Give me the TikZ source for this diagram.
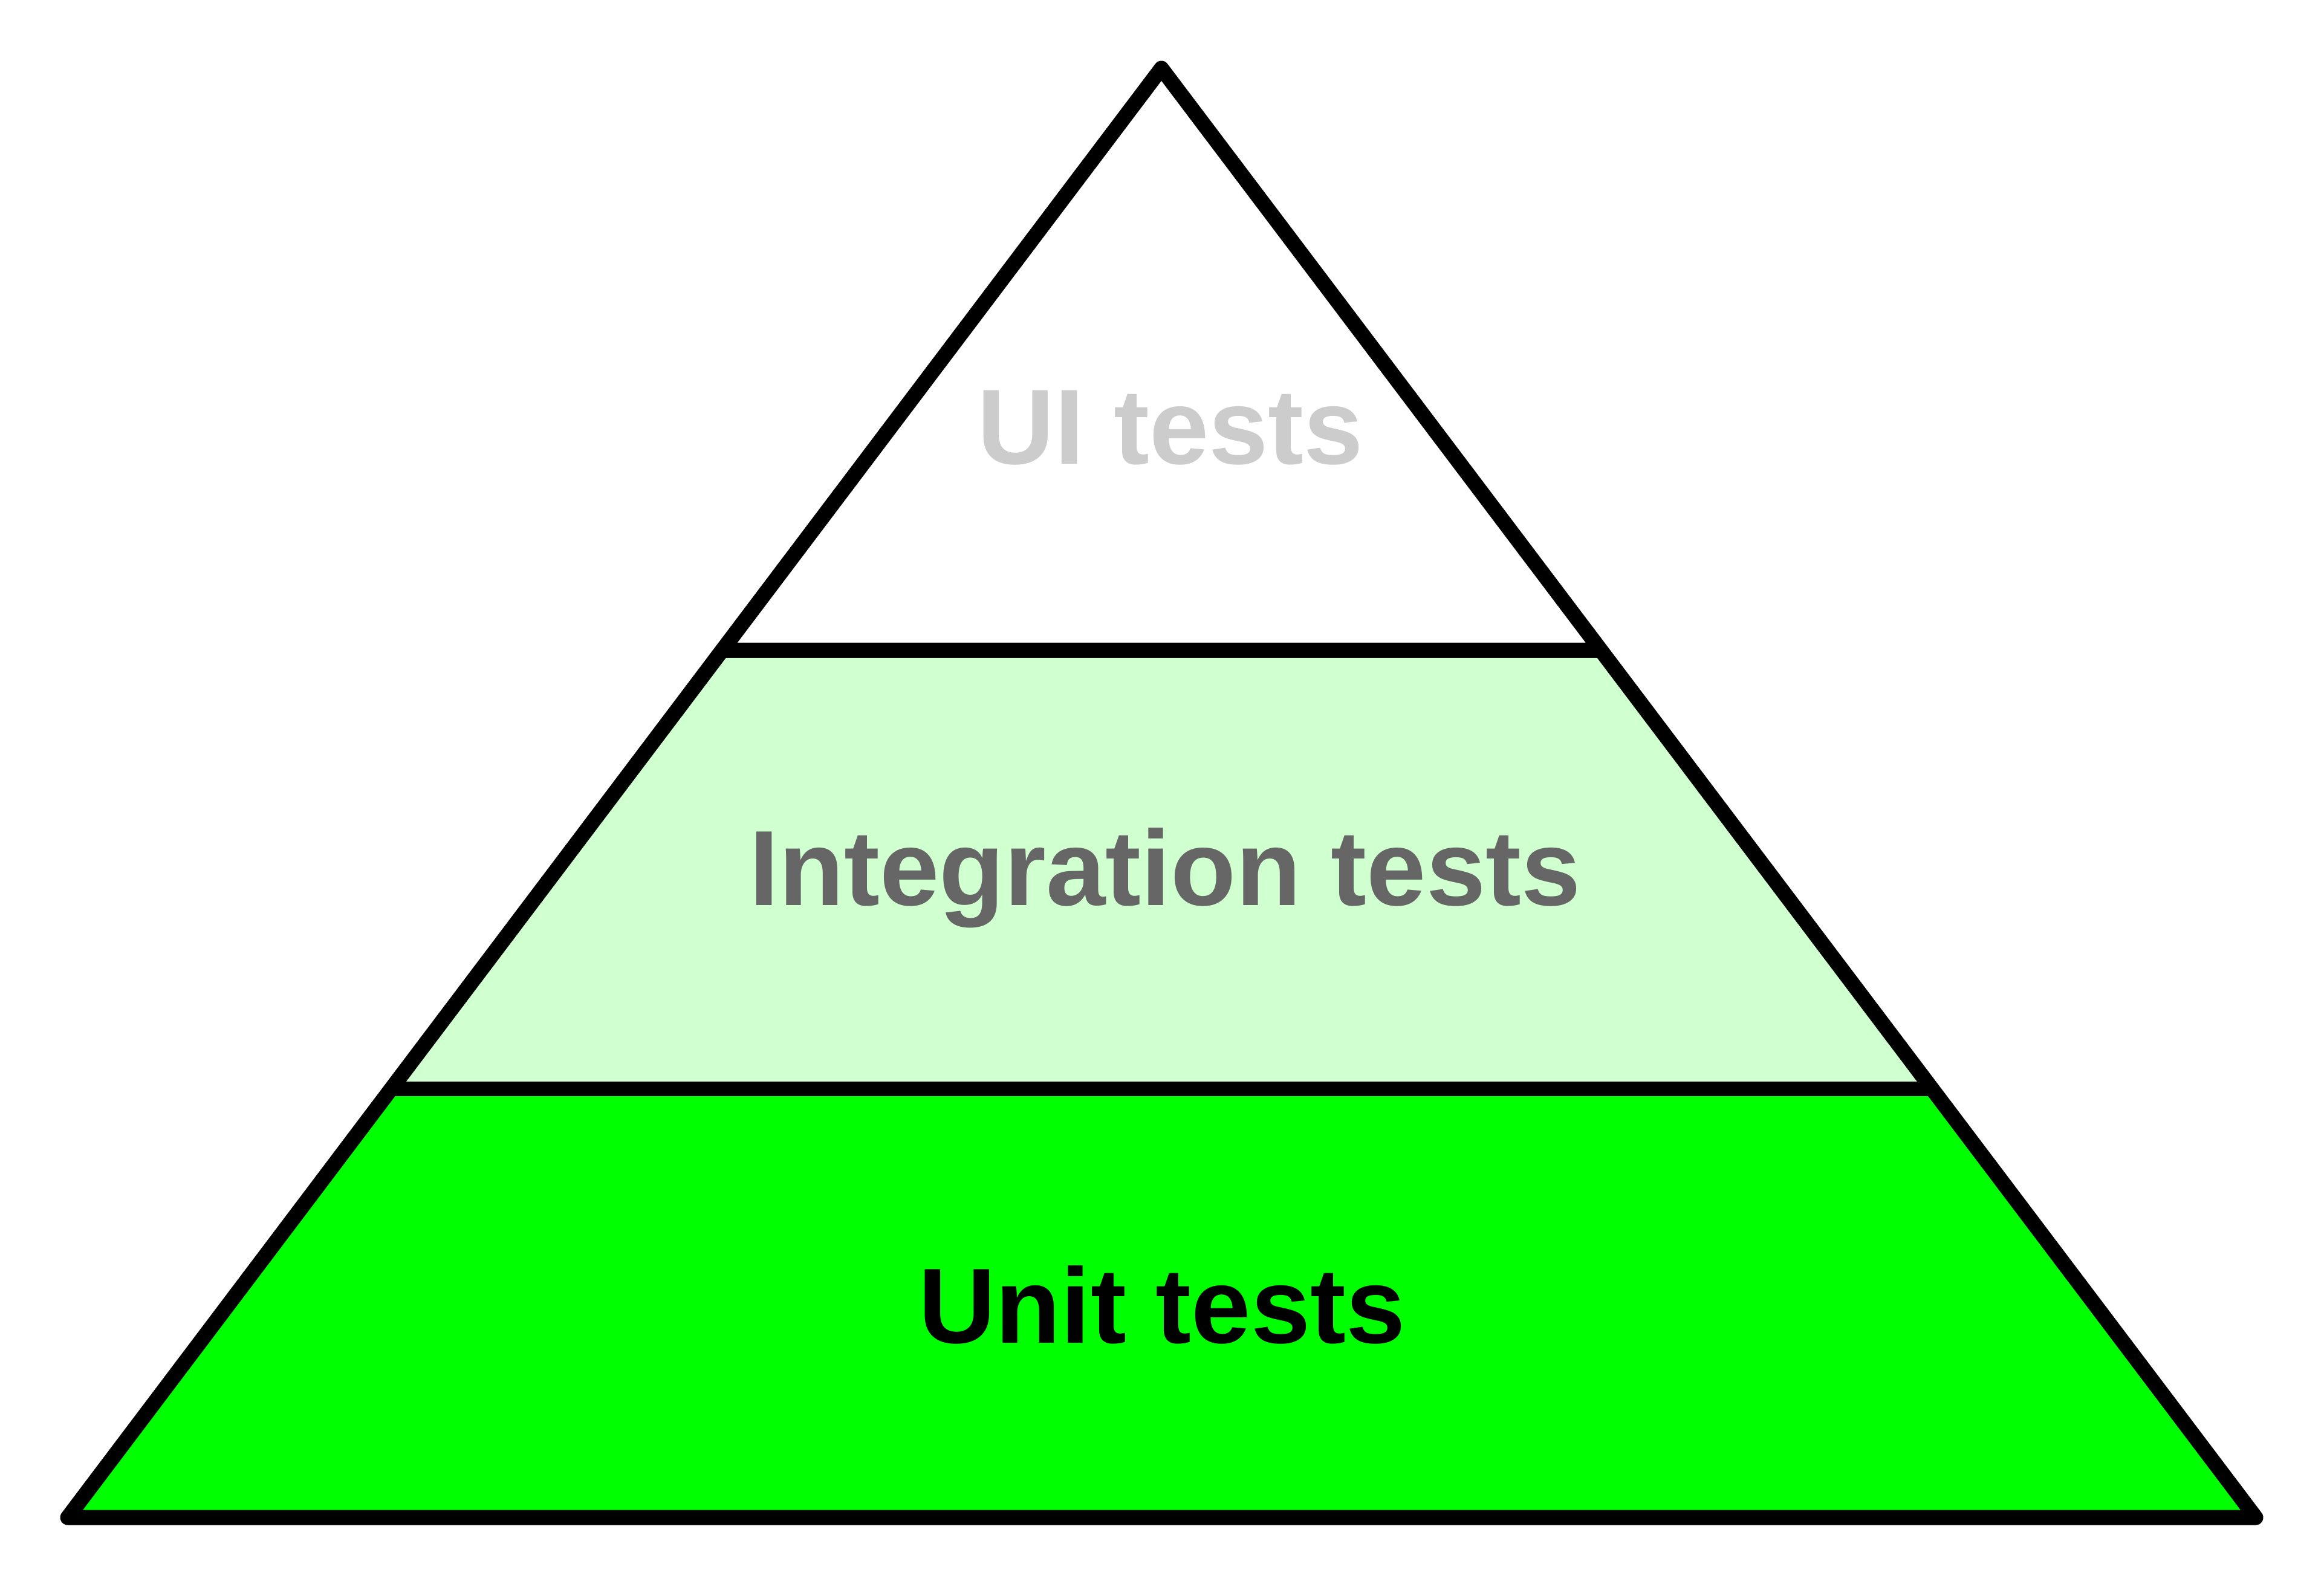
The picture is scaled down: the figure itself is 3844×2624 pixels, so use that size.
\documentclass[tikz,border=0pt]{standalone}
\usepackage{fontspec}
\setmainfont{Liberation Sans}
\usetikzlibrary{calc}
\definecolor{unitgreen}{HTML}{00FF00}
\definecolor{intgreen}{HTML}{D0FFD0}
\definecolor{uigray}{HTML}{CCCCCC}
\definecolor{intgray}{HTML}{666666}

\begin{document}
\begin{tikzpicture}[x=0.1mm, y=-0.1mm, line join=round,
        tier/.style={font=\fontsize{50.3}{60}\selectfont\bfseries, anchor=base},
        rim/.style={draw=black, line width=7.1pt}]
      \useasboundingbox (0,0) rectangle (3844,2624);
      \coordinate (top) at (1921,113);
      \coordinate (bl) at (112,2510);
      \coordinate (br) at (3731,2510);
      \coordinate (l1) at ($(bl)!0.5983!(top)$);
      \coordinate (r1) at ($(br)!0.5983!(top)$);
      \coordinate (l2) at ($(bl)!0.2958!(top)$);
      \coordinate (r2) at ($(br)!0.2958!(top)$);
      % layers
      \fill[unitgreen] (bl) -- (l2) -- (r2) -- (br) -- cycle;
      \fill[intgreen] (l2) -- (l1) -- (r1) -- (r2) -- cycle;
      \draw[rim] (l1) -- (r1);
      \draw[rim] (l2) -- (r2);
      \draw[rim] (top) -- (bl) -- (br) -- cycle;
      % labels
      \node[tier, text=uigray] (ui) at (1936,767) {UI tests};
      \node[tier, text=intgray] (int) at (1927,1497) {Integration tests};
      \node[tier, text=black] (unit) at (1922,2221) {Unit tests};
    \end{tikzpicture}
\end{document}
